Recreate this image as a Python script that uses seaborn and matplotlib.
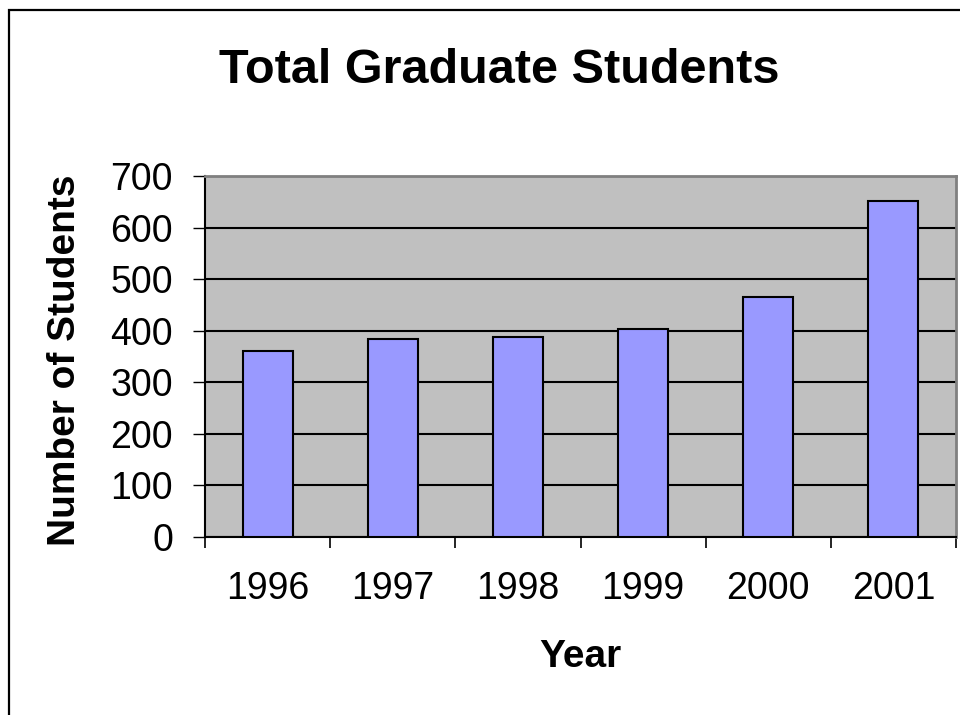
import matplotlib
matplotlib.use("Agg")
import matplotlib.pyplot as plt
import matplotlib.patches as mpatches
import seaborn as sns
import pandas as pd
import numpy as np

# values
years = ["1996", "1997", "1998", "1999", "2000", "2001"]
students = [361, 384, 388, 403, 466, 652]
y_ticks = [0, 100, 200, 300, 400, 500, 600, 700]

df = pd.DataFrame({"Year": years, "Students": students})

sns.set_style("white")
plt.rcParams["font.family"] = ["Liberation Sans", "DejaVu Sans"]
plt.rcParams["text.color"] = "black"
plt.rcParams["axes.labelcolor"] = "black"
plt.rcParams["xtick.color"] = "black"
plt.rcParams["ytick.color"] = "black"

W, H = 960, 715
fig = plt.figure(figsize=(W / 100, H / 100), dpi=100)
# plot area in pixels: left 205, right 956, top 176, bottom 536.7
ax = fig.add_axes([205 / W, 1 - 536.7 / H, (956 - 205) / W, (536.7 - 176) / H])
ax.set_facecolor("#C0C0C0")

sns.barplot(data=df, x="Year", y="Students", color="#9999FF", saturation=1,
            edgecolor="black", linewidth=1.5, width=0.4, ax=ax, zorder=3)

ax.set_xlim(-0.5, len(years) - 0.5)
ax.set_ylim(0, 700)
ax.set_yticks(y_ticks)
ax.yaxis.grid(True, color="black", linewidth=1.5, zorder=1)
ax.set_axisbelow(True)

# ticks: y outward, x boundary ticks via minor locator
ax.tick_params(axis="y", which="major", direction="out", length=9, width=1,
               color="black", labelcolor="black", labelsize=27, pad=14, left=True)
ax.tick_params(axis="x", which="major", length=0, labelsize=27, pad=25,
               labelcolor="black")
ax.set_xticks(np.arange(-0.5, len(years)), minor=True)
ax.tick_params(axis="x", which="minor", direction="out", length=8, width=1.2,
               color="black", bottom=True)

for side in ["left", "bottom"]:
    ax.spines[side].set_color("black")
    ax.spines[side].set_linewidth(1.5)
for side in ["top", "right"]:
    ax.spines[side].set_color("#808080")
    ax.spines[side].set_linewidth(2)

ax.set_xlabel("Year", fontsize=28, fontweight="bold", color="black")
ax.set_ylabel("Number of Students", fontsize=28, fontweight="bold", color="black")
ax.xaxis.set_label_coords(0.5, -0.284)
ax.yaxis.set_label_coords(-0.162, 0.49)

fig.text(499 / W, 1 - 82.7 / H, "Total Graduate Students", ha="center",
         va="baseline", fontsize=35, fontweight="bold", color="black")

# outer chart frame (right/bottom run past the picture edge)
frame = mpatches.Rectangle((9 / W, -0.5), 2, 1.5 - 10 / H, transform=fig.transFigure,
                           fill=False, edgecolor="black", linewidth=1.6, clip_on=False)
fig.patches.append(frame)

fig.savefig("out.png", dpi=100)
